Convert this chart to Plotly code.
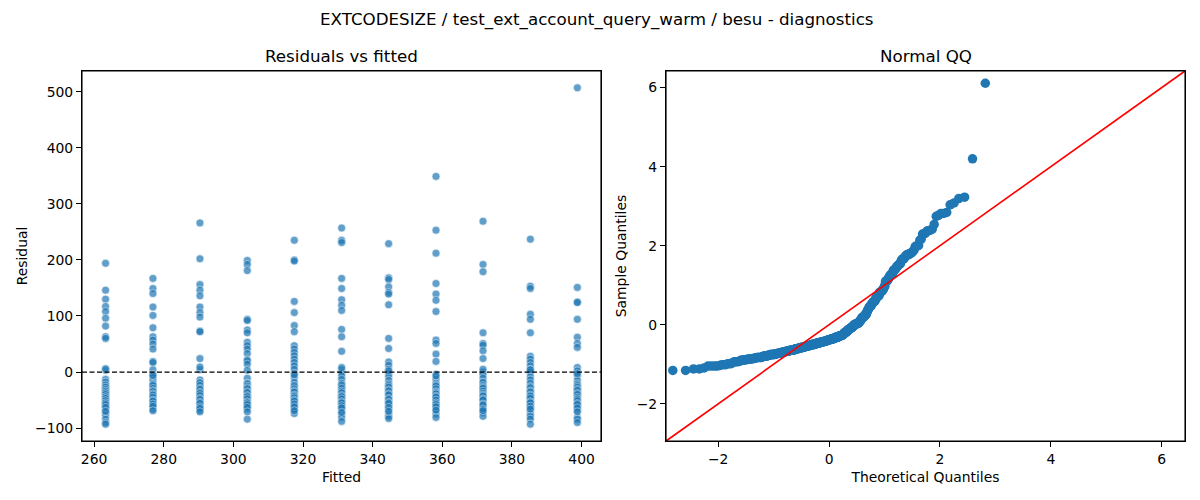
from statistics import NormalDist

import plotly.graph_objects as go
from plotly.subplots import make_subplots

# ---------------------------------
# Data
# ---------------------------------

title_text = "EXTCODESIZE / test_ext_account_query_warm / besu - diagnostics"

fitted_levels = [263.3, 276.9, 290.4, 304.0, 317.5, 331.1, 344.6, 358.2, 371.7, 385.3, 398.8]

res_263 = [194, 146, 130, 117, 108, 96, 82, 63, 60, 3, -13, -18, -26, -30, -36, -42, -48, -53, -60,
           -66, -72, -77, -84, -90, -93, 6, -23, -27, -31, -34, -37, -40, -44, -47, -51, -55, -58,
           -63, -70]
res_277 = [167, 149, 140, 116, 101, 79, 63, 57, 50, 41, 19, 17, 4, -4, -10, -15, -20, -26, -32, -38,
           -42, -48, -54, -60, -66, -6, -22, -24, -29, -33, -35, -39, -41, -45, -50, -52, -57, -61,
           -69]
res_290 = [266, 202, 156, 146, 136, 116, 106, 98, 73, 72, 24, 4, -14, -21, -27, -33, -39, -45, -51,
           -59, -68, 9, -19, -24, -29, -31, -36, -38, -42, -47, -49, -54, -56, -62, -65, -71]
res_304 = [199, 192, 181, 94, 92, 75, 70, 53, 47, 41, 33, 22, 20, 14, -11, -20, -21, -32, -39, -45,
           -51, -60, -66, -84, 3, -25, -28, -30, -35, -37, -42, -44, -48, -53, -55, -58, -63, -71]
res_318 = [235, 200, 198, 126, 106, 83, 72, 47, 41, 35, 29, 23, 17, 11, 5, -2, -10, -18, -27, -33,
           -39, -48, -54, -60, -66, -74, -5, -24, -30, -34, -36, -41, -43, -46, -50, -52, -57, -62,
           -69]
res_331 = [257, 235, 231, 167, 149, 129, 119, 110, 76, 63, 37, 4, -1, -7, -13, -20, -26, -32, -39,
           -45, -51, -57, -66, -75, -81, -88, 8, -23, -29, -34, -37, -42, -44, -48, -53, -55, -60,
           -64, -72]
res_345 = [229, 168, 165, 152, 142, 139, 120, 60, 42, 18, 12, 5, -2, -8, -15, -21, -29, -36, -44,
           -51, -60, -67, -75, -79, -83, 2, -24, -27, -32, -34, -39, -41, -47, -49, -54, -56, -63,
           -70]
res_358 = [349, 253, 212, 158, 139, 128, 108, 57, 51, 32, 19, -4, -13, -20, -27, -33, -41, -47, -53,
           -60, -67, -75, -81, -7, -23, -25, -30, -35, -37, -39, -43, -45, -50, -55, -58, -62, -68]
res_372 = [269, 192, 179, 70, 51, 48, 38, 24, 0, -4, -11, -20, -32, -36, -45, -53, -63, -72, -79,
           5, -18, -24, -27, -29, -34, -38, -41, -43, -48, -50, -57, -59, -66, -69]
res_385 = [237, 153, 149, 103, 94, 70, 28, 23, 17, 11, 5, 0, -8, -14, -20, -26, -32, -39, -45, -51,
           -57, -63, -69, -75, -79, -84, -93, 4, -28, -34, -36, -41, -43, -47, -53, -55, -61, -66]
res_399 = [507, 151, 125, 124, 94, 62, 51, 44, 8, 2, -7, -15, -21, -29, -36, -42, -53, -60, -68, -81,
           -84, -90, -3, -24, -27, -31, -33, -38, -40, -45, -48, -51, -56, -58, -64, -71]

residual_groups = [res_263, res_277, res_290, res_304, res_318, res_331,
                   res_345, res_358, res_372, res_385, res_399]

x_ticks_left = [260, 280, 300, 320, 340, 360, 380, 400]
y_ticks_left = [-100, 0, 100, 200, 300, 400, 500]
qq_ticks = [-2, 0, 2, 4, 6]
qq_range = [-2.94, 6.42]

# ---------------------------------
# Flatten residuals / build QQ
# ---------------------------------

fitted = []
resid = []
for level, group in zip(fitted_levels, residual_groups):
    fitted += [level] * len(group)
    resid += group

n = len(resid)
mean = sum(resid) / n
sd = (sum((r - mean) ** 2 for r in resid) / n) ** 0.5
sample_q = sorted((r - mean) / sd for r in resid)
theo_q = [NormalDist().inv_cdf(i / (n + 1)) for i in range(1, n + 1)]


def padded(vals, frac=0.05):
    lo, hi = min(vals), max(vals)
    pad = (hi - lo) * frac
    return [lo - pad, hi + pad]


# ---------------------------------
# Figure
# ---------------------------------

font = "DejaVu Sans, Verdana, sans-serif"
blue = "#1f77b4"

fig = make_subplots(rows=1, cols=2)

fig.add_trace(go.Scatter(
    x=fitted, y=resid, mode="markers",
    marker=dict(size=8, color=blue, opacity=0.7, line=dict(color="white", width=0.6)),
    showlegend=False
), row=1, col=1)

fig.add_hline(y=0, line=dict(color="black", width=1.2, dash="5px,2.5px"), row=1, col=1)

fig.add_trace(go.Scatter(
    x=theo_q, y=sample_q, mode="markers",
    marker=dict(size=9.5, color=blue, line=dict(width=0)),
    showlegend=False
), row=1, col=2)

# 45 degree reference line across the QQ panel
fig.add_shape(type="line", xref="x2 domain", yref="y2 domain", x0=0, y0=0, x1=1, y1=1,
              line=dict(color="red", width=1.6))

# full black frame round both panels
for xr, yr in [("x domain", "y domain"), ("x2 domain", "y2 domain")]:
    fig.add_shape(type="rect", xref=xr, yref=yr, x0=0, y0=0, x1=1, y1=1,
                  line=dict(color="black", width=1.1), fillcolor="rgba(0,0,0,0)")

axis_style = dict(
    showline=True, mirror=True, linecolor="black", linewidth=1.1,
    ticks="outside", ticklen=5, tickwidth=1.1, tickcolor="black",
    showgrid=False, zeroline=False, automargin=False,
    tickfont=dict(family=font, size=13.9, color="black"),
)

fig.update_xaxes(axis_style)
fig.update_yaxes(axis_style)

fig.update_xaxes(domain=[0, 0.4705], range=padded(fitted), tickvals=x_ticks_left,
                 title=dict(text="Fitted", font=dict(family=font, size=13.9), standoff=6),
                 row=1, col=1)
fig.update_yaxes(range=padded(resid), tickvals=y_ticks_left,
                 title=dict(text="Residual", font=dict(family=font, size=13.9), standoff=4),
                 row=1, col=1)
fig.update_xaxes(domain=[0.5295, 1], range=qq_range, tickvals=qq_ticks,
                 title=dict(text="Theoretical Quantiles", font=dict(family=font, size=13.9), standoff=6),
                 row=1, col=2)
fig.update_yaxes(range=qq_range, tickvals=qq_ticks,
                 title=dict(text="Sample Quantiles", font=dict(family=font, size=13.9), standoff=6),
                 row=1, col=2)

# titles
fig.add_annotation(text=title_text, xref="paper", yref="paper", x=0.4669, y=1.1405,
                   xanchor="center", yanchor="middle", showarrow=False,
                   font=dict(family=font, size=16.7, color="black"))
fig.add_annotation(text="Residuals vs fitted", xref="x domain", yref="paper", x=0.5, y=1.0405,
                   xanchor="center", yanchor="middle", showarrow=False,
                   font=dict(family=font, size=16.7, color="black"))
fig.add_annotation(text="Normal QQ", xref="x2 domain", yref="paper", x=0.5, y=1.0405,
                   xanchor="center", yanchor="middle", showarrow=False,
                   font=dict(family=font, size=16.7, color="black"))

# page body has an 8px margin, so the figure is drawn 16px smaller than the window
fig.update_layout(
    width=1184, height=484,
    margin=dict(l=74, r=7, t=63, b=51),
    paper_bgcolor="white", plot_bgcolor="white",
    font=dict(family=font, color="black"),
)

fig.write_html("out.html")
